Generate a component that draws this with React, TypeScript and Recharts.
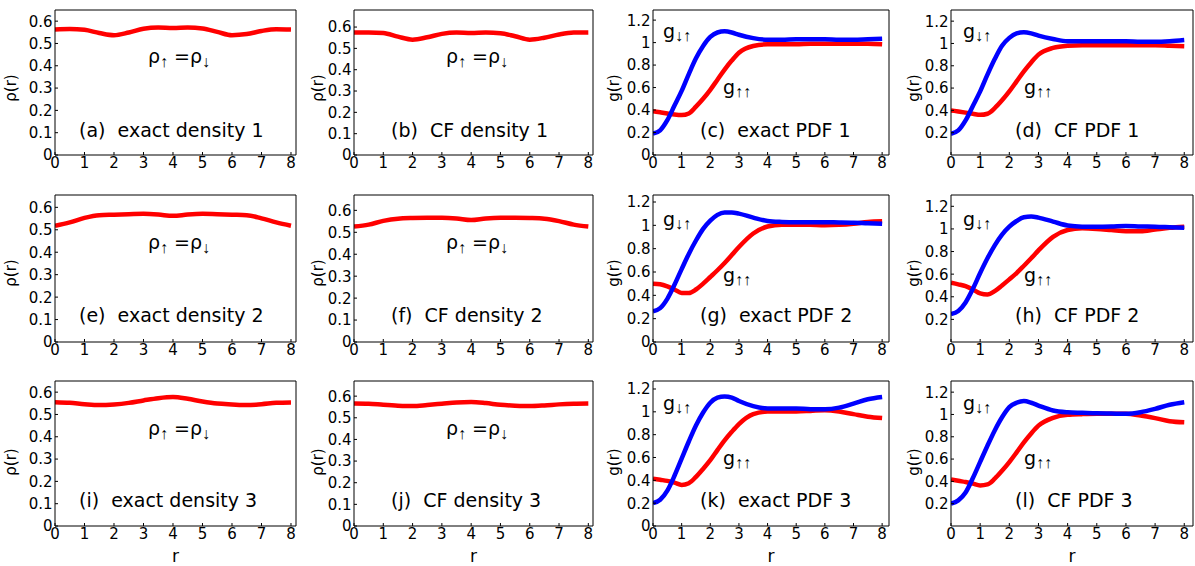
import React from 'react';
import { LineChart, Line, XAxis, YAxis, ReferenceLine } from 'recharts';

// ---------- data ----------
const R_DENS = [0, 0.5, 1, 1.5, 2, 2.5, 3, 3.5, 4, 4.5, 5, 5.5, 6, 6.5, 7, 7.5, 8];
const R_PDF = [0, 0.25, 0.5, 0.75, 1, 1.25, 1.5, 1.75, 2, 2.25, 2.5, 2.75, 3, 3.5, 4, 4.5, 5, 5.5, 6, 6.5, 7, 7.5, 8];

const X_TICKS = [0, 1, 2, 3, 4, 5, 6, 7, 8];
const RHO_TICKS = [0, 0.1, 0.2, 0.3, 0.4, 0.5, 0.6];
const G_TICKS = [0, 0.2, 0.4, 0.6, 0.8, 1, 1.2];
const G_TICKS_CF = [0.2, 0.4, 0.6, 0.8, 1, 1.2];

// densities rho(r)
const RHO_A = [0.563, 0.565, 0.561, 0.547, 0.537, 0.549, 0.566, 0.571, 0.569, 0.571, 0.567, 0.552, 0.537, 0.542, 0.556, 0.564, 0.563];
const RHO_B = [0.575, 0.575, 0.572, 0.555, 0.541, 0.552, 0.568, 0.574, 0.572, 0.574, 0.571, 0.557, 0.541, 0.55, 0.565, 0.574, 0.575];
const RHO_E = [0.518, 0.533, 0.553, 0.565, 0.567, 0.569, 0.571, 0.568, 0.562, 0.568, 0.571, 0.569, 0.567, 0.565, 0.551, 0.533, 0.518];
const RHO_F = [0.526, 0.535, 0.552, 0.562, 0.565, 0.566, 0.566, 0.563, 0.556, 0.563, 0.566, 0.566, 0.565, 0.562, 0.551, 0.535, 0.526];
const RHO_I = [0.555, 0.552, 0.546, 0.542, 0.545, 0.552, 0.563, 0.573, 0.578, 0.57, 0.558, 0.549, 0.545, 0.542, 0.546, 0.552, 0.554];
const RHO_J = [0.566, 0.565, 0.56, 0.556, 0.554, 0.559, 0.565, 0.571, 0.573, 0.568, 0.56, 0.556, 0.554, 0.557, 0.562, 0.565, 0.566];

// pair distribution functions: g_down-up (blue) and g_up-up (red)
const GUD_C = [0.19, 0.22, 0.31, 0.44, 0.57, 0.72, 0.86, 0.97, 1.05, 1.09, 1.1, 1.09, 1.07, 1.04, 1.025, 1.025, 1.03, 1.03, 1.03, 1.025, 1.025, 1.03, 1.035];
const GUU_C = [0.39, 0.38, 0.37, 0.36, 0.355, 0.37, 0.43, 0.5, 0.58, 0.67, 0.76, 0.84, 0.91, 0.97, 0.985, 0.985, 0.985, 0.99, 0.99, 0.99, 0.99, 0.99, 0.985];
const GUD_D = [0.19, 0.22, 0.31, 0.44, 0.57, 0.72, 0.86, 0.98, 1.05, 1.09, 1.1, 1.09, 1.07, 1.04, 1.02, 1.02, 1.02, 1.02, 1.02, 1.015, 1.015, 1.02, 1.03];
const GUU_D = [0.4, 0.39, 0.38, 0.37, 0.36, 0.37, 0.42, 0.49, 0.57, 0.66, 0.75, 0.83, 0.9, 0.96, 0.98, 0.985, 0.985, 0.985, 0.985, 0.985, 0.985, 0.98, 0.975];
const GUD_G = [0.263, 0.29, 0.37, 0.49, 0.625, 0.755, 0.87, 0.97, 1.04, 1.09, 1.11, 1.11, 1.1, 1.066, 1.037, 1.029, 1.026, 1.026, 1.026, 1.025, 1.023, 1.018, 1.014];
const GUU_G = [0.5, 0.495, 0.477, 0.45, 0.42, 0.42, 0.45, 0.5, 0.557, 0.615, 0.677, 0.745, 0.814, 0.93, 0.99, 1.006, 1.006, 1.004, 1.0, 1.004, 1.014, 1.029, 1.034];
const GUD_H = [0.248, 0.275, 0.35, 0.47, 0.61, 0.74, 0.855, 0.95, 1.02, 1.07, 1.104, 1.11, 1.1, 1.065, 1.03, 1.02, 1.02, 1.022, 1.026, 1.022, 1.02, 1.015, 1.01];
const GUU_H = [0.524, 0.51, 0.494, 0.465, 0.43, 0.42, 0.45, 0.5, 0.554, 0.61, 0.674, 0.74, 0.81, 0.93, 0.99, 1.005, 1.0, 0.99, 0.98, 0.98, 0.995, 1.01, 1.02];
const GUD_K = [0.2, 0.23, 0.31, 0.44, 0.59, 0.74, 0.88, 0.994, 1.08, 1.124, 1.135, 1.125, 1.095, 1.05, 1.03, 1.03, 1.03, 1.023, 1.023, 1.037, 1.072, 1.11, 1.13];
const GUU_K = [0.415, 0.405, 0.395, 0.38, 0.36, 0.375, 0.43, 0.5, 0.576, 0.665, 0.75, 0.825, 0.893, 0.98, 1.003, 1.003, 1.003, 1.008, 1.014, 1.003, 0.98, 0.957, 0.945];
const GUD_L = [0.2, 0.23, 0.3, 0.43, 0.575, 0.72, 0.857, 0.975, 1.066, 1.105, 1.12, 1.105, 1.08, 1.036, 1.02, 1.015, 1.01, 1.008, 1.006, 1.02, 1.05, 1.087, 1.11];
const GUU_L = [0.418, 0.405, 0.394, 0.38, 0.364, 0.373, 0.424, 0.495, 0.573, 0.66, 0.75, 0.83, 0.9, 0.97, 0.997, 1.003, 1.006, 1.006, 1.006, 0.99, 0.967, 0.94, 0.93];

const PANEL_TITLES = [
  ['(a)  exact density 1', '(b)  CF density 1', '(c)  exact PDF 1', '(d)  CF PDF 1'],
  ['(e)  exact density 2', '(f)  CF density 2', '(g)  exact PDF 2', '(h)  CF PDF 2'],
  ['(i)  exact density 3', '(j)  CF density 3', '(k)  exact PDF 3', '(l)  CF PDF 3'],
];

// ---------- layout ----------
const FONT = '"DejaVu Sans", sans-serif';
const RED = '#ff0000';
const BLUE = '#0000ff';
const COL_LEFT = [55, 354, 653, 951];
const COL_W = [241, 239, 236, 242];
const COL_XMAX = [8.17, 8.16, 8.24, 8.3];
const ROW_TOP = [10, 195, 381];
const ROW_H = [145, 147, 145];
const Y_MAX = [
  [0.65, 0.68, 1.29, 1.3],
  [0.655, 0.67, 1.26, 1.3],
  [0.65, 0.67, 1.27, 1.3],
];

const densData = (v: number[]) => R_DENS.map((r, i) => ({ r, rho: v[i] }));
const pdfData = (ud: number[], uu: number[]) => R_PDF.map((r, i) => ({ r, uu: uu[i], ud: ud[i] }));

const PANEL_DATA = [
  [densData(RHO_A), densData(RHO_B), pdfData(GUD_C, GUU_C), pdfData(GUD_D, GUU_D)],
  [densData(RHO_E), densData(RHO_F), pdfData(GUD_G, GUU_G), pdfData(GUD_H, GUU_H)],
  [densData(RHO_I), densData(RHO_J), pdfData(GUD_K, GUU_K), pdfData(GUD_L, GUU_L)],
];

const TICK_FS = 15;
const axisStroke = { stroke: '#000', strokeWidth: 1 };

const XTick = (props: any) => (
  <text x={props.x} y={props.y} dy="0.71em" textAnchor="middle" fontSize={TICK_FS} fontFamily={FONT} fill="#000">
    {String(props.payload.value)}
  </text>
);
const YTick = (props: any) => (
  <text x={props.x} y={props.y} dy="0.36em" textAnchor="end" fontSize={TICK_FS} fontFamily={FONT} fill="#000">
    {String(props.payload.value)}
  </text>
);

function Panel({ row, col }: { row: number; col: number }) {
  const left = COL_LEFT[col];
  const top = ROW_TOP[row];
  const w = COL_W[col];
  const h = ROW_H[row];
  const W = w + 56;
  const H = h + 36;
  const isPdf = col >= 2;
  const yTicks = col === 0 || col === 1 ? RHO_TICKS : col === 2 ? G_TICKS : G_TICKS_CF;
  const xMax = COL_XMAX[col];
  const yMax = Y_MAX[row][col];
  return (
    <div style={{ position: 'absolute', left: left - 50, top: top - 5, width: W, height: H }}>
      <LineChart width={W} height={H} data={PANEL_DATA[row][col]} margin={{ top: 5, right: 6, bottom: 0, left: 0 }}>
        <XAxis
          dataKey="r"
          type="number"
          domain={[0, xMax]}
          ticks={X_TICKS}
          allowDataOverflow
          interval={0}
          height={31}
          tickSize={-3}
          tickMargin={5.5}
          tick={XTick}
          axisLine={axisStroke}
          tickLine={axisStroke}
        />
        <YAxis
          type="number"
          domain={[0, yMax]}
          ticks={yTicks}
          allowDataOverflow
          interval={0}
          width={50}
          tickSize={-3}
          tickMargin={5.5}
          tick={YTick}
          axisLine={axisStroke}
          tickLine={axisStroke}
        />
        <ReferenceLine x={xMax} stroke="#000" strokeWidth={1} ifOverflow="visible" />
        <ReferenceLine y={yMax} stroke="#000" strokeWidth={1} ifOverflow="visible" />
        {isPdf ? (
          [
            <Line key="uu" dataKey="uu" type="monotone" stroke={RED} strokeWidth={4.5} dot={false} isAnimationActive={false} />,
            <Line key="ud" dataKey="ud" type="monotone" stroke={BLUE} strokeWidth={4.5} dot={false} isAnimationActive={false} />,
          ]
        ) : (
          <Line dataKey="rho" type="monotone" stroke={RED} strokeWidth={4.5} dot={false} isAnimationActive={false} />
        )}
      </LineChart>
    </div>
  );
}

// annotation positions
const TITLE_X = [79, 391, 700, 1015];
const TITLE_Y = [137, 322, 507];
const RHO_X = [148, 446];
const RHO_Y = [63, 249, 435];
const GUD_X = [663, 963];
const GUD_Y = [38, 226, 410];
const GUU_X = [723, 1024];
const GUU_Y = [94, 282, 465];
const YLAB_X = [10.5, 318, 614, 914];
const YLAB_Y = [88, 273, 462];

const ARROW_FONT = '"Liberation Sans", sans-serif';

function Overlay() {
  const items: React.ReactNode[] = [];
  for (let row = 0; row < 3; row++) {
    for (let col = 0; col < 4; col++) {
      const k = `${row}-${col}`;
      items.push(
        <text key={'t' + k} x={TITLE_X[col]} y={TITLE_Y[row]} fontSize={19} fontFamily={FONT} fill="#000" style={{ whiteSpace: 'pre' }}>
          {PANEL_TITLES[row][col]}
        </text>
      );
      const yl = col < 2 ? 'ρ(r)' : 'g(r)';
      items.push(
        <text
          key={'y' + k}
          x={YLAB_X[col]}
          y={YLAB_Y[row]}
          dy="0.35em"
          fontSize={15}
          fontFamily={FONT}
          fill="#000"
          textAnchor="middle"
          transform={`rotate(-90 ${YLAB_X[col]} ${YLAB_Y[row]})`}
        >
          {yl}
        </text>
      );
      if (col < 2) {
        items.push(
          <text key={'r' + k} x={RHO_X[col]} y={RHO_Y[row]} fontSize={19} fontFamily={FONT} fill="#000" style={{ whiteSpace: 'pre' }}>
            ρ
            <tspan fontSize={16} fontFamily={ARROW_FONT} dy={4}>↑</tspan>
            <tspan dy={-4}> =ρ</tspan>
            <tspan fontSize={16} fontFamily={ARROW_FONT} dy={4}>↓</tspan>
          </text>
        );
      } else {
        const c = col - 2;
        items.push(
          <text key={'gd' + k} x={GUD_X[c]} y={GUD_Y[row]} fontSize={19} fontFamily={FONT} fill="#000">
            g<tspan fontSize={16} fontFamily={ARROW_FONT} dy={3}>↓↑</tspan>
          </text>
        );
        items.push(
          <text key={'gu' + k} x={GUU_X[c]} y={GUU_Y[row]} fontSize={19} fontFamily={FONT} fill="#000">
            g<tspan fontSize={16} fontFamily={ARROW_FONT} dy={3}>↑↑</tspan>
          </text>
        );
      }
    }
  }
  for (let col = 0; col < 4; col++) {
    items.push(
      <text key={'xl' + col} x={COL_LEFT[col] + COL_W[col] / 2} y={562} fontSize={17} fontFamily={FONT} fill="#000" textAnchor="middle">
        r
      </text>
    );
  }
  return (
    <svg width={1195} height={566} style={{ position: 'absolute', left: 0, top: 0, pointerEvents: 'none' }}>
      {items}
    </svg>
  );
}

export default function App() {
  const panels: React.ReactNode[] = [];
  for (let row = 0; row < 3; row++) {
    for (let col = 0; col < 4; col++) {
      panels.push(<Panel key={`${row}-${col}`} row={row} col={col} />);
    }
  }
  return (
    <div style={{ position: 'absolute', left: 0, top: 0, width: 1195, height: 566, background: '#fff', overflow: 'hidden' }}>
      {panels}
      <Overlay />
    </div>
  );
}
